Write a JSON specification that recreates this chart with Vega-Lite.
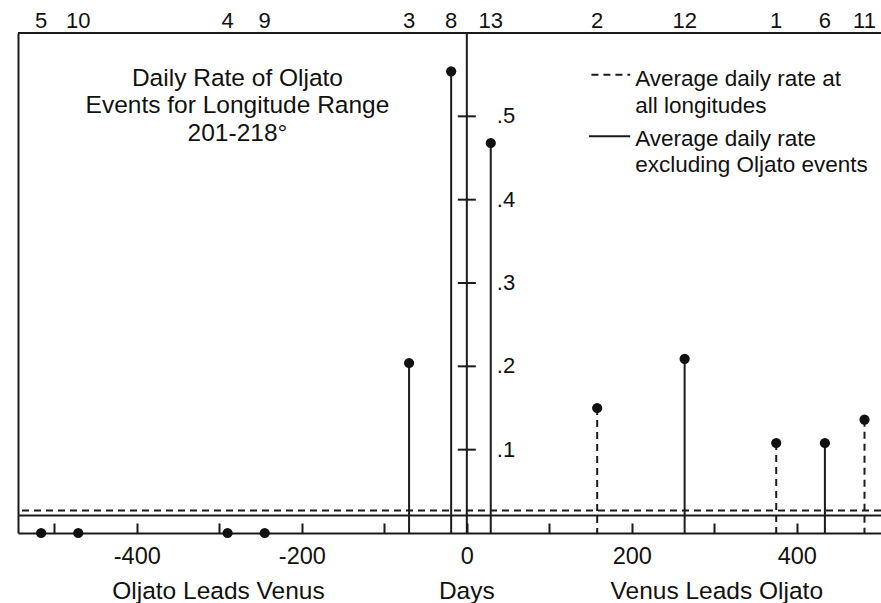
{
  "$schema": "https://vega.github.io/schema/vega-lite/v6.json",
  "width": 863,
  "height": 500,
  "autosize": {"type": "none"},
  "padding": {"left": 18, "top": 33, "right": 0, "bottom": 70},
  "background": "white",
  "config": {
    "view": {"stroke": null},
    "font": "Liberation Sans",
    "axis": {
      "grid": false,
      "title": null,
      "domainColor": "#1a1a1a",
      "domainWidth": 2,
      "tickColor": "#1a1a1a",
      "tickWidth": 2,
      "labelColor": "#111111",
      "labelFont": "Liberation Sans",
      "labelFontSize": 23.5
    },
    "axisX": {"tickSize": -10, "labelPadding": 21, "labelOverlap": false},
    "axisY": {"ticks": false, "labels": false}
  },
  "datasets": {
    "events": [
      {"event": 5, "day": -516, "rate": 0, "group": "A"},
      {"event": 10, "day": -471, "rate": 0, "group": "A"},
      {"event": 4, "day": -290, "rate": 0, "group": "A"},
      {"event": 9, "day": -245, "rate": 0, "group": "A"},
      {"event": 3, "day": -70, "rate": 0.204, "group": "A"},
      {"event": 8, "day": -19, "rate": 0.554, "group": "A"},
      {"event": 13, "day": 29, "rate": 0.468, "group": "A"},
      {"event": 2, "day": 158, "rate": 0.15, "group": "B"},
      {"event": 12, "day": 264, "rate": 0.209, "group": "A"},
      {"event": 1, "day": 375, "rate": 0.108, "group": "B"},
      {"event": 6, "day": 434, "rate": 0.108, "group": "A"},
      {"event": 11, "day": 482, "rate": 0.136, "group": "B"}
    ],
    "averages": [
      {"series": "all longitudes", "rate": 0.027},
      {"series": "excluding Oljato events", "rate": 0.021}
    ],
    "rateTicks": [
      {"v": 0.1, "label": ".1"},
      {"v": 0.2, "label": ".2"},
      {"v": 0.3, "label": ".3"},
      {"v": 0.4, "label": ".4"},
      {"v": 0.5, "label": ".5"}
    ],
    "one": [{}]
  },
  "resolve": {"scale": {"strokeDash": "independent"}},
  "layer": [
    {
      "data": {"name": "events"},
      "transform": [{"filter": "datum.rate > 0"}],
      "mark": {"type": "rule", "color": "#1f1a1a", "strokeWidth": 2},
      "encoding": {
        "x": {
          "field": "day",
          "type": "quantitative",
          "scale": {"domain": [-544, 502], "nice": false, "zero": false},
          "axis": {
            "values": [-500, -400, -300, -200, -100, 0, 100, 200, 300, 400],
            "labelExpr": "datum.value % 200 === 0 ? '' + datum.value : ''"
          }
        },
        "y": {
          "field": "rate",
          "type": "quantitative",
          "scale": {"domain": [0, 0.6], "nice": false}
        },
        "y2": {"datum": 0},
        "strokeDash": {
          "field": "group",
          "type": "nominal",
          "scale": {"domain": ["A", "B"], "range": [[1, 0], [7, 5]]},
          "legend": null
        }
      }
    },
    {
      "data": {"name": "averages"},
      "mark": {"type": "rule", "color": "#1a1a1a", "strokeWidth": 2},
      "encoding": {
        "y": {"field": "rate", "type": "quantitative"},
        "strokeDash": {
          "field": "series",
          "type": "nominal",
          "scale": {"domain": ["all longitudes", "excluding Oljato events"], "range": [[7, 5], [1, 0]]},
          "legend": null
        }
      }
    },
    {
      "data": {"name": "one"},
      "mark": {"type": "rule", "color": "#1a1a1a", "strokeWidth": 2},
      "encoding": {"y": {"datum": 0.6}}
    },
    {
      "data": {"name": "one"},
      "mark": {"type": "rule", "color": "#1a1a1a", "strokeWidth": 2},
      "encoding": {"x": {"datum": 0}}
    },
    {
      "data": {"name": "rateTicks"},
      "mark": {"type": "tick", "orient": "horizontal", "color": "#1a1a1a", "size": 18, "thickness": 2, "opacity": 1},
      "encoding": {
        "x": {"datum": 0},
        "y": {"field": "v", "type": "quantitative"}
      }
    },
    {
      "data": {"name": "rateTicks"},
      "mark": {"type": "text", "align": "left", "baseline": "middle", "dx": 30, "fontSize": 22, "color": "#111111"},
      "encoding": {
        "x": {"datum": 0},
        "y": {"field": "v", "type": "quantitative"},
        "text": {"field": "label"}
      }
    },
    {
      "data": {"name": "events"},
      "mark": {"type": "circle", "size": 105, "opacity": 1, "color": "#111111"},
      "encoding": {
        "x": {"field": "day", "type": "quantitative"},
        "y": {"field": "rate", "type": "quantitative"}
      }
    },
    {
      "data": {"name": "events"},
      "mark": {"type": "text", "baseline": "alphabetic", "align": "center", "dy": -5, "fontSize": 22, "color": "#111111"},
      "encoding": {
        "x": {"field": "day", "type": "quantitative"},
        "y": {"datum": 0.6},
        "text": {"field": "event"}
      }
    },
    {
      "data": {"name": "one"},
      "mark": {"type": "text", "align": "center", "baseline": "top", "fontSize": 24.5, "lineHeight": 27.5, "color": "#111111"},
      "encoding": {
        "x": {"datum": -278},
        "y": {"datum": 0.5593},
        "text": {"value": ["Daily Rate of Oljato", "Events for Longitude Range", "201-218°"]}
      }
    },
    {
      "data": {"name": "one"},
      "mark": {"type": "rule", "color": "#1a1a1a", "strokeWidth": 2, "strokeDash": [7, 5]},
      "encoding": {
        "x": {"datum": 151},
        "x2": {"datum": 198},
        "y": {"datum": 0.55}
      }
    },
    {
      "data": {"name": "one"},
      "mark": {"type": "rule", "color": "#1a1a1a", "strokeWidth": 2},
      "encoding": {
        "x": {"datum": 148},
        "x2": {"datum": 198},
        "y": {"datum": 0.476}
      }
    },
    {
      "data": {"name": "one"},
      "mark": {"type": "text", "align": "left", "baseline": "top", "fontSize": 22.5, "lineHeight": 27, "color": "#111111"},
      "encoding": {
        "x": {"datum": 204},
        "y": {"datum": 0.5585},
        "text": {"value": ["Average daily rate at", "all longitudes"]}
      }
    },
    {
      "data": {"name": "one"},
      "mark": {"type": "text", "align": "left", "baseline": "top", "fontSize": 22.5, "lineHeight": 26, "color": "#111111"},
      "encoding": {
        "x": {"datum": 204},
        "y": {"datum": 0.486},
        "text": {"value": ["Average daily rate", "excluding Oljato events"]}
      }
    },
    {
      "data": {"name": "one"},
      "mark": {"type": "text", "align": "center", "baseline": "alphabetic", "dy": 66, "fontSize": 24.5, "color": "#111111"},
      "encoding": {
        "x": {"datum": -301},
        "y": {"datum": 0},
        "text": {"value": "Oljato Leads Venus"}
      }
    },
    {
      "data": {"name": "one"},
      "mark": {"type": "text", "align": "center", "baseline": "alphabetic", "dy": 66, "fontSize": 24.5, "color": "#111111"},
      "encoding": {
        "x": {"datum": 0},
        "y": {"datum": 0},
        "text": {"value": "Days"}
      }
    },
    {
      "data": {"name": "one"},
      "mark": {"type": "text", "align": "center", "baseline": "alphabetic", "dy": 66, "fontSize": 24.5, "color": "#111111"},
      "encoding": {
        "x": {"datum": 303},
        "y": {"datum": 0},
        "text": {"value": "Venus Leads Oljato"}
      }
    }
  ]
}
